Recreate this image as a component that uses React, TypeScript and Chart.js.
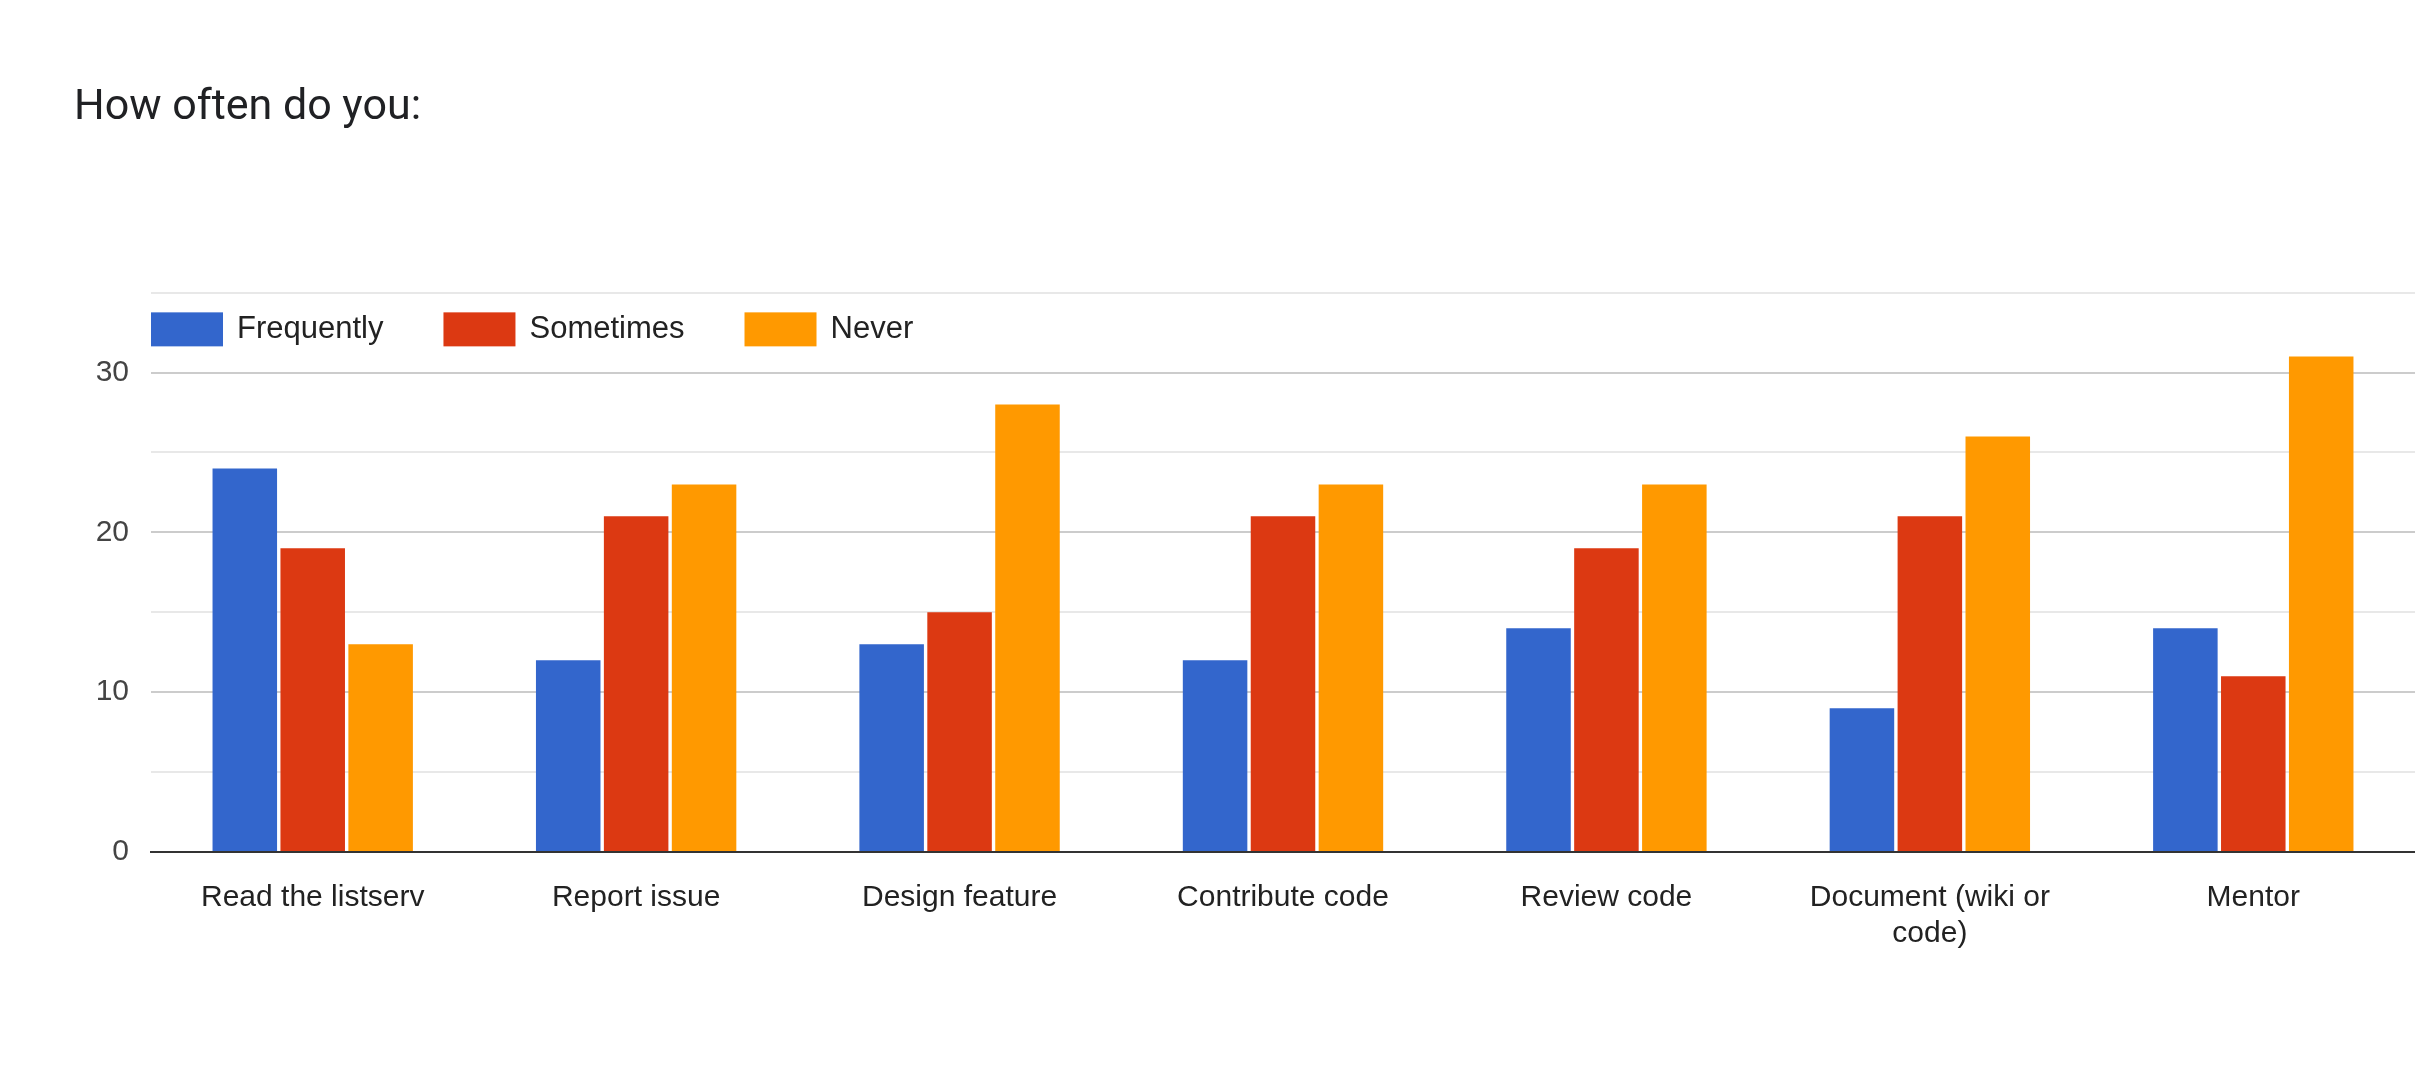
import React, { useEffect, useRef } from "react";
import { Chart, registerables } from "chart.js";
Chart.register(...registerables);

const categories: (string | string[])[] = ["Read the listserv", "Report issue", "Design feature", "Contribute code", "Review code", ["Document (wiki or", "code)"], "Mentor"];
const frequently = [24, 12, 13, 12, 14, 9, 14];
const sometimes = [19, 21, 15, 21, 19, 21, 11];
const never = [13, 23, 28, 23, 23, 26, 31];
const seriesNames = ["Frequently", "Sometimes", "Never"];
const colors = ["#3366cc", "#dc3912", "#ff9900"];

const FONT = "Arial, 'Liberation Sans', sans-serif";

const legendPlugin = {
  id: "inLegend",
  afterDraw(chart: any) {
    const ctx = chart.ctx;
    const a = chart.chartArea;
    const y = chart.scales.y.getPixelForValue(32.7);
    let x = a.left;
    ctx.save();
    ctx.font = `31px ${FONT}`;
    ctx.textBaseline = "middle";
    seriesNames.forEach((n, i) => {
      ctx.fillStyle = colors[i];
      ctx.fillRect(x, y - 17, 72, 34);
      x += 86;
      ctx.fillStyle = "#222";
      ctx.fillText(n, x, y);
      x += ctx.measureText(n).width + 60;
    });
    ctx.restore();
  },
};

export default function App() {
  const ref = useRef<HTMLCanvasElement>(null);
  useEffect(() => {
    document.body.style.margin = "0";
    const data = [frequently, sometimes, never];
    const chart = new Chart(ref.current!, {
      type: "bar",
      data: {
        labels: categories as any,
        datasets: data.map((d, i) => ({
          label: seriesNames[i],
          data: d,
          backgroundColor: colors[i],
          borderWidth: 0,
          categoryPercentage: 0.63,
          barPercentage: 0.95,
        })),
      },
      plugins: [legendPlugin],
      options: {
        animation: false,
        responsive: false,
        layout: { padding: { left: 74, right: 0, top: 0, bottom: 0 } },
        plugins: {
          legend: { display: false },
          tooltip: { enabled: false },
          title: {
            display: true,
            text: "How often do you:",
            align: "start",
            color: "#202124",
            font: { family: "Roboto, Arial, sans-serif", size: 43, weight: "normal" as any, lineHeight: 1.2 },
            padding: { top: 82, bottom: 159 },
          },
        },
        scales: {
          x: {
            grid: { display: false },
            border: { color: "#333", width: 2 },
            ticks: { color: "#222", font: { family: FONT, size: 30 }, padding: 20, maxRotation: 0, autoSkip: false },
            afterFit(s: any) { s.height = 222; },
          },
          y: {
            min: 0,
            max: 35,
            border: { display: false },
            grid: {
              color: (c: any) => (c.tick && c.tick.value % 10 === 0 ? "#cccccc" : "#e8e8e8"),
              lineWidth: 2,
              drawTicks: false,
            },
            ticks: {
              stepSize: 5,
              color: "#444",
              padding: 22,
              font: { family: FONT, size: 30 },
              callback: (v: any) => (v % 10 === 0 ? String(v) : ""),
            },
            afterFit(s: any) { s.width = 77; },
          },
        },
      },
    });
    return () => chart.destroy();
  }, []);
  return <canvas ref={ref} width={2415} height={1074} style={{ display: "block" }} />;
}
